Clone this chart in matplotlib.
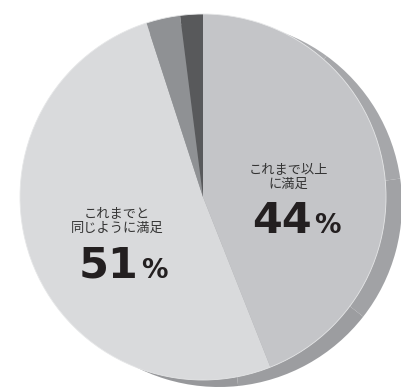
import matplotlib.pyplot as plt
from matplotlib.patches import Circle, Wedge

# satisfaction share (%), clockwise from 12 o'clock
labels = ["これまで以上\nに満足", "これまでと\n同じように満足", "other_a", "other_b"]
shares = [44, 51, 3, 2]
colors = ["#c4c5c8", "#d9dadc", "#8f9194", "#58595b"]

W, H = 401, 388
fig = plt.figure(figsize=(W / 100, H / 100), dpi=100)
ax = fig.add_axes([0, 0, 1, 1])

cx, cy, r = 203, 191, 183
sx, sy = cx + 16, cy - 7

# extruded side of the disc, getting darker towards the bottom
side = ["#abacaf", "#a6a7aa", "#a1a2a5", "#9c9da0", "#97989b"]
a0 = 100
for c in side:
    a1 = a0 - 230 / len(side)
    ax.add_patch(Wedge((sx, sy), r, a1, a0, color=c, lw=0, zorder=1))
    a0 = a1
ax.add_patch(Wedge((sx, sy), r, 100, a0 + 360, color=side[-1], lw=0, zorder=1))

ax.pie(shares, colors=colors, startangle=90, counterclock=False,
       center=(cx, cy), radius=r, frame=True,
       wedgeprops=dict(linewidth=0, zorder=2))
ax.add_patch(Circle((cx, cy), r, fill=False, ec="#e6e7e8", lw=0.6, zorder=3))

ax.set_xlim(0, W)
ax.set_ylim(0, H)
ax.set_aspect("equal")
ax.axis("off")

jp = "Noto Sans CJK JP"
ax.text(288, 211, labels[0], ha="center", va="center", fontsize=9.5,
        family=jp, color="#333333", linespacing=1.15, zorder=5)
ax.text(117, 167, labels[1], ha="center", va="center", fontsize=9.5,
        family=jp, color="#333333", linespacing=1.15, zorder=5)

big = dict(fontsize=31, fontweight="heavy", family="DejaVu Sans",
           color="#231f20", va="baseline", zorder=5)
pct = dict(fontsize=19, fontweight="bold", family="DejaVu Sans",
           color="#231f20", va="baseline", ha="left", zorder=5)
ax.text(312, 155, str(shares[0]), ha="right", **big)
ax.text(314, 155, "%", **pct)
ax.text(138, 110, str(shares[1]), ha="right", **big)
ax.text(141, 110, "%", **pct)

fig.savefig("out.png", dpi=100)
